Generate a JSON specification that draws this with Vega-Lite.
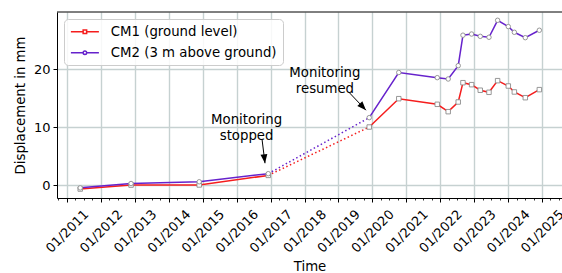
{
  "$schema": "https://vega.github.io/schema/vega-lite/v6.json",
  "width": 505,
  "height": 186,
  "autosize": {"type": "none"},
  "padding": {"left": 57, "top": 12, "right": 0, "bottom": 75},
  "config": {
    "font": "DejaVu Sans",
    "view": {"stroke": null},
    "axis": {"labelFont": "DejaVu Sans", "titleFont": "DejaVu Sans", "labelColor": "black", "titleColor": "black", "titleFontWeight": "normal", "labelFontSize": 13, "titleFontSize": 13.3, "domainColor": "black", "tickColor": "black", "gridColor": "#c6d1d1", "gridWidth": 1.4}
  },
  "datasets": {
    "obs": [
      {"series": "CM1 (ground level)", "period": "early", "date": "2011-05-23", "disp": -0.65},
      {"series": "CM1 (ground level)", "period": "early", "date": "2012-11-20", "disp": 0.03},
      {"series": "CM1 (ground level)", "period": "early", "date": "2014-11-24", "disp": 0.05},
      {"series": "CM1 (ground level)", "period": "early", "date": "2016-12-06", "disp": 1.7},
      {"series": "CM1 (ground level)", "period": "late", "date": "2019-11-28", "disp": 10.05},
      {"series": "CM1 (ground level)", "period": "late", "date": "2020-10-11", "disp": 14.94},
      {"series": "CM1 (ground level)", "period": "late", "date": "2021-11-29", "disp": 13.97},
      {"series": "CM1 (ground level)", "period": "late", "date": "2022-03-27", "disp": 12.7},
      {"series": "CM1 (ground level)", "period": "late", "date": "2022-07-13", "disp": 14.37},
      {"series": "CM1 (ground level)", "period": "late", "date": "2022-09-02", "disp": 17.7},
      {"series": "CM1 (ground level)", "period": "late", "date": "2022-12-04", "disp": 17.36},
      {"series": "CM1 (ground level)", "period": "late", "date": "2023-03-07", "disp": 16.4},
      {"series": "CM1 (ground level)", "period": "late", "date": "2023-06-09", "disp": 16.04},
      {"series": "CM1 (ground level)", "period": "late", "date": "2023-09-10", "disp": 18.05},
      {"series": "CM1 (ground level)", "period": "late", "date": "2024-01-03", "disp": 17.13},
      {"series": "CM1 (ground level)", "period": "late", "date": "2024-03-08", "disp": 16.1},
      {"series": "CM1 (ground level)", "period": "late", "date": "2024-07-04", "disp": 15.11},
      {"series": "CM1 (ground level)", "period": "late", "date": "2024-12-02", "disp": 16.5},
      {"series": "CM2 (3 m above ground)", "period": "early", "date": "2011-05-23", "disp": -0.45},
      {"series": "CM2 (3 m above ground)", "period": "early", "date": "2012-11-20", "disp": 0.3},
      {"series": "CM2 (3 m above ground)", "period": "early", "date": "2014-11-24", "disp": 0.6},
      {"series": "CM2 (3 m above ground)", "period": "early", "date": "2016-12-06", "disp": 2.0},
      {"series": "CM2 (3 m above ground)", "period": "late", "date": "2019-11-28", "disp": 11.67},
      {"series": "CM2 (3 m above ground)", "period": "late", "date": "2020-10-11", "disp": 19.46},
      {"series": "CM2 (3 m above ground)", "period": "late", "date": "2021-11-29", "disp": 18.57},
      {"series": "CM2 (3 m above ground)", "period": "late", "date": "2022-03-27", "disp": 18.34},
      {"series": "CM2 (3 m above ground)", "period": "late", "date": "2022-07-13", "disp": 20.64},
      {"series": "CM2 (3 m above ground)", "period": "late", "date": "2022-09-02", "disp": 25.9},
      {"series": "CM2 (3 m above ground)", "period": "late", "date": "2022-12-04", "disp": 26.1},
      {"series": "CM2 (3 m above ground)", "period": "late", "date": "2023-03-07", "disp": 25.7},
      {"series": "CM2 (3 m above ground)", "period": "late", "date": "2023-06-09", "disp": 25.54},
      {"series": "CM2 (3 m above ground)", "period": "late", "date": "2023-09-10", "disp": 28.47},
      {"series": "CM2 (3 m above ground)", "period": "late", "date": "2024-01-03", "disp": 27.38},
      {"series": "CM2 (3 m above ground)", "period": "late", "date": "2024-03-08", "disp": 26.4},
      {"series": "CM2 (3 m above ground)", "period": "late", "date": "2024-07-04", "disp": 25.47},
      {"series": "CM2 (3 m above ground)", "period": "late", "date": "2024-12-02", "disp": 26.75}
    ],
    "notes": [
      {"note": "Monitoring\nstopped", "date": "2016-04-17", "disp": 11.2, "tailDate": "2016-09-30", "tailDisp": 7.94, "tipDate": "2016-11-01", "tipDisp": 3.8},
      {"note": "Monitoring\nresumed", "date": "2018-08-08", "disp": 19.41, "tailDate": "2019-04-23", "tailDisp": 16.06, "tipDate": "2019-10-24", "tipDisp": 12.95}
    ]
  },
  "layer": [
    {
      "data": {"name": "obs"},
      "mark": {"type": "line", "strokeWidth": 1.5},
      "encoding": {
        "x": {
          "field": "date", "type": "temporal", "title": "Time",
          "scale": {"type": "utc", "nice": false, "domain": [{"year": 2010, "month": 9, "date": 15, "utc": true}, {"year": 2025, "month": 8, "date": 3, "utc": true}]},
          "axis": {
            "tickCount": {"interval": "month", "step": 3},
            "labelExpr": "utcmonth(datum.value) == 0 ? utcFormat(datum.value, '%m/%Y') : ''",
            "labelAngle": -45, "labelAlign": "center", "labelBaseline": "middle", "labelPadding": 29,
            "labelOverlap": false, "labelBound": false, "labelFlush": false,
            "tickSize": {"condition": {"test": "utcmonth(datum.value) == 0", "value": 4}, "value": 2},
            "tickWidth": {"condition": {"test": "utcmonth(datum.value) == 0", "value": 1}, "value": 0.8},
            "gridOpacity": {"condition": {"test": "utcmonth(datum.value) == 0", "value": 1}, "value": 0},
            "titlePadding": 4
          }
        },
        "y": {
          "field": "disp", "type": "quantitative", "title": "Displacement in mm",
          "scale": {"domain": [-2.2, 29.9], "nice": false, "zero": false},
          "axis": {"values": [0, 10, 20], "tickSize": 4, "labelPadding": 3, "titlePadding": 6}
        },
        "color": {
          "field": "series", "type": "nominal",
          "scale": {"domain": ["CM1 (ground level)", "CM2 (3 m above ground)"], "range": ["#f51d1d", "#6622cc"]},
          "legend": {
            "orient": "none", "legendX": 7, "legendY": 7, "title": null,
            "symbolSize": 100, "symbolStrokeWidth": 1.5, "labelFontSize": 13.3, "labelFont": "DejaVu Sans", "labelColor": "black",
            "labelOffset": 27.5, "padding": 6, "rowPadding": 7, "labelLimit": 0,
            "strokeColor": "#cccccc", "fillColor": "rgba(255,255,255,0.85)", "cornerRadius": 4,
            "encode": {"symbols": {"update": {
              "shape": {"signal": "datum.value === 'CM1 (ground level)' ? 'M-1.15,0H1.3M2.0,0H4.45M1.3,-0.35H2.0V0.35H1.3Z' : 'M-1.15,0H1.3M2.0,0H4.45M1.3,0A0.35,0.35 0 1,0 2.0,0A0.35,0.35 0 1,0 1.3,0Z'"},
              "fill": {"value": "white"}
            }}}
          }
        },
        "detail": {"field": "period"}
      }
    },
    {
      "data": {"name": "obs"},
      "transform": [{"filter": {"field": "date", "range": [{"year": 2016, "month": 10, "date": 1, "utc": true}, {"year": 2020, "month": 1, "date": 1, "utc": true}]}}],
      "mark": {"type": "line", "strokeWidth": 1.5, "strokeDash": [1.5, 2.5]},
      "encoding": {
        "x": {"field": "date", "type": "temporal", "title": "Time"},
        "y": {"field": "disp", "type": "quantitative", "title": "Displacement in mm"},
        "color": {"field": "series", "type": "nominal", "legend": null}
      }
    },
    {
      "data": {"name": "obs"},
      "transform": [{"filter": "datum.series === 'CM1 (ground level)'"}],
      "mark": {"type": "point", "shape": "square", "filled": false, "fill": "white", "stroke": "#8c8c8c", "strokeWidth": 0.9, "opacity": 1, "size": 20},
      "encoding": {
        "x": {"field": "date", "type": "temporal", "title": "Time"},
        "y": {"field": "disp", "type": "quantitative", "title": "Displacement in mm"}
      }
    },
    {
      "data": {"name": "obs"},
      "transform": [{"filter": "datum.series === 'CM2 (3 m above ground)'"}],
      "mark": {"type": "point", "shape": "circle", "filled": false, "fill": "white", "stroke": "#8c8c8c", "strokeWidth": 0.9, "opacity": 1, "size": 20},
      "encoding": {
        "x": {"field": "date", "type": "temporal", "title": "Time"},
        "y": {"field": "disp", "type": "quantitative", "title": "Displacement in mm"}
      }
    },
    {
      "data": {"name": "notes"},
      "mark": {"type": "text", "fontSize": 13.3, "font": "DejaVu Sans", "color": "black", "align": "center", "baseline": "middle", "lineBreak": "\n", "lineHeight": 16},
      "encoding": {
        "x": {"field": "date", "type": "temporal", "title": "Time"},
        "y": {"field": "disp", "type": "quantitative", "title": "Displacement in mm"},
        "text": {"field": "note"}
      }
    },
    {
      "data": {"name": "notes"},
      "mark": {"type": "rule", "color": "black", "strokeWidth": 1},
      "encoding": {
        "x": {"field": "tailDate", "type": "temporal", "title": "Time"},
        "y": {"field": "tailDisp", "type": "quantitative", "title": "Displacement in mm"},
        "x2": {"field": "tipDate"},
        "y2": {"field": "tipDisp"}
      }
    },
    {
      "data": {"name": "notes"},
      "transform": [{"filter": "indexof(datum.note, 'stopped') >= 0"}],
      "mark": {"type": "point", "shape": "M0,0L-0.38,-1L0.38,-1Z", "filled": true, "color": "black", "opacity": 1, "size": 324, "angle": -7},
      "encoding": {
        "x": {"field": "tipDate", "type": "temporal", "title": "Time"},
        "y": {"field": "tipDisp", "type": "quantitative", "title": "Displacement in mm"}
      }
    },
    {
      "data": {"name": "notes"},
      "transform": [{"filter": "indexof(datum.note, 'resumed') >= 0"}],
      "mark": {"type": "point", "shape": "M0,0L-0.38,-1L0.38,-1Z", "filled": true, "color": "black", "opacity": 1, "size": 324, "angle": -43},
      "encoding": {
        "x": {"field": "tipDate", "type": "temporal", "title": "Time"},
        "y": {"field": "tipDisp", "type": "quantitative", "title": "Displacement in mm"}
      }
    },
    {
      "data": {"values": [{}]},
      "mark": {"type": "rule", "color": "black", "strokeWidth": 1},
      "encoding": {"y": {"datum": 29.9}}
    }
  ]
}
